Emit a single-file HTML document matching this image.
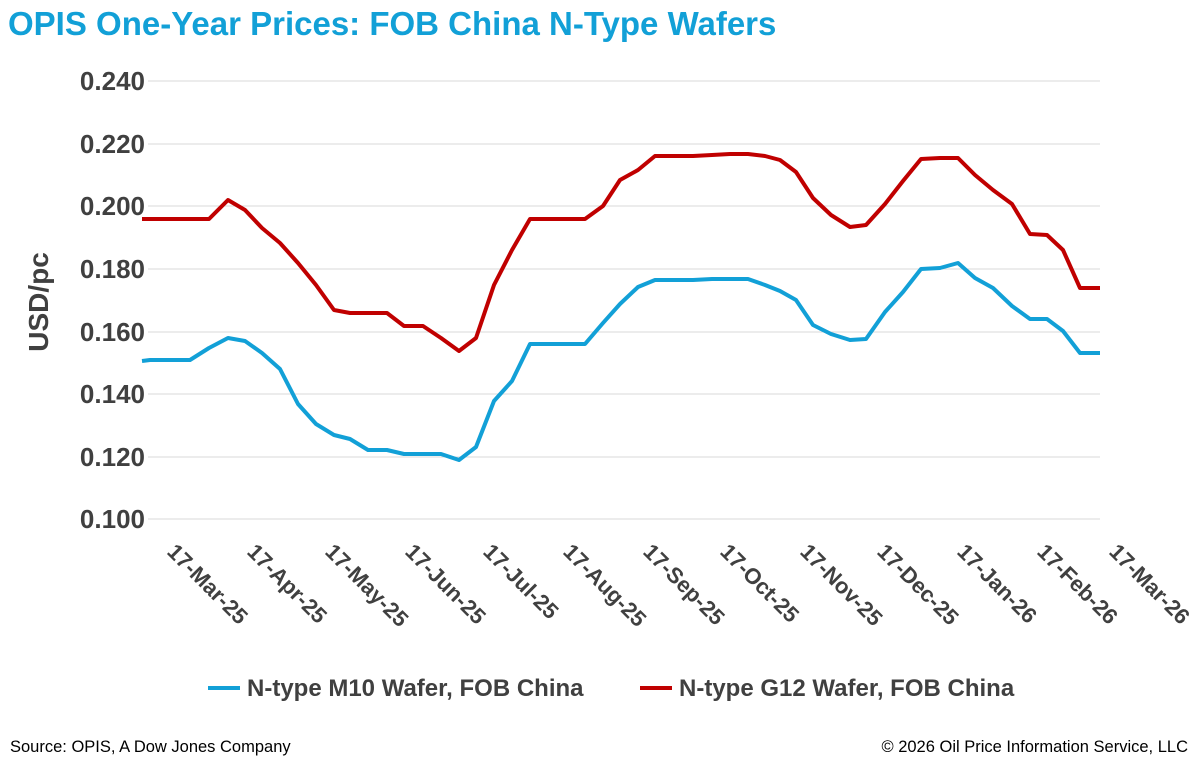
<!DOCTYPE html>
<html><head><meta charset="utf-8"><style>
html,body{margin:0;padding:0;background:#fff;}
svg{display:block;font-family:"Liberation Sans",sans-serif;}
</style></head><body>
<svg width="1200" height="765" viewBox="0 0 1200 765" xmlns="http://www.w3.org/2000/svg">
<text x="8" y="35" font-size="33" font-weight="bold" fill="#12a0d7">OPIS One-Year Prices: FOB China N-Type Wafers</text>
<g stroke="#d9d9d9" stroke-width="1">
<line x1="148" y1="81" x2="1100" y2="81"/><line x1="148" y1="144" x2="1100" y2="144"/>
<line x1="148" y1="206" x2="1100" y2="206"/><line x1="148" y1="269" x2="1100" y2="269"/>
<line x1="148" y1="332" x2="1100" y2="332"/><line x1="148" y1="394" x2="1100" y2="394"/>
<line x1="148" y1="457" x2="1100" y2="457"/><line x1="148" y1="519" x2="1100" y2="519"/>
</g>
<g font-size="26" font-weight="bold" fill="#404040" text-anchor="end">
<text x="145" y="90">0.240</text><text x="145" y="153">0.220</text><text x="145" y="215">0.200</text>
<text x="145" y="278">0.180</text><text x="145" y="341">0.160</text><text x="145" y="403">0.140</text>
<text x="145" y="466">0.120</text><text x="145" y="528">0.100</text>
</g>
<text transform="translate(48,302) rotate(-90)" font-size="28" font-weight="bold" fill="#404040" text-anchor="middle">USD/pc</text>
<g font-size="22" font-weight="bold" fill="#404040">
<text transform="translate(166,553) rotate(45)">17-Mar-25</text>
<text transform="translate(246,553) rotate(45)">17-Apr-25</text>
<text transform="translate(324,553) rotate(45)">17-May-25</text>
<text transform="translate(404,553) rotate(45)">17-Jun-25</text>
<text transform="translate(482,553) rotate(45)">17-Jul-25</text>
<text transform="translate(562,553) rotate(45)">17-Aug-25</text>
<text transform="translate(642,553) rotate(45)">17-Sep-25</text>
<text transform="translate(719,553) rotate(45)">17-Oct-25</text>
<text transform="translate(799,553) rotate(45)">17-Nov-25</text>
<text transform="translate(876,553) rotate(45)">17-Dec-25</text>
<text transform="translate(956,553) rotate(45)">17-Jan-26</text>
<text transform="translate(1036,553) rotate(45)">17-Feb-26</text>
<text transform="translate(1108,553) rotate(45)">17-Mar-26</text>
</g>
<polyline fill="none" stroke="#c00000" stroke-width="4" stroke-linejoin="round" points="142,219 209,219 228,200 245,210 262,228 280,243 298,263 316,285 334,310 350,313 368,313 387,313 404,326 423,326 441,338 459,351 476,338 494,285 512,250 530,219 549,219 567,219 585,219 603,206 620,180 638,170 655,156 674,156 693,156 712,155 730,154 748,154 765,156 780,160 796,172 813,198 831,215 850,227 866,225 885,204 903,181 921,159 940,158 958,158 975,175 993,190 1012,204 1030,234 1047,235 1063,250 1080,288 1100,288"/>
<polyline fill="none" stroke="#12a0d7" stroke-width="4" stroke-linejoin="round" points="142,361 150,360 190,360 209,348 228,338 245,341 262,353 280,369 298,404 316,424 334,435 350,439 368,450 387,450 404,454 423,454 441,454 459,460 476,447 494,401 512,381 530,344 549,344 567,344 585,344 603,323 620,304 638,287 655,280 674,280 693,280 712,279 730,279 748,279 765,285 780,291 796,300 813,325 831,334 850,340 866,339 885,312 903,292 921,269 940,268 958,263 975,278 993,288 1012,306 1030,319 1047,319 1063,331 1080,353 1100,353"/>
<line x1="208" y1="688" x2="240" y2="688" stroke="#12a0d7" stroke-width="4"/>
<text x="247" y="696" font-size="24" font-weight="bold" fill="#404040">N-type M10 Wafer, FOB China</text>
<line x1="640" y1="688" x2="672" y2="688" stroke="#c00000" stroke-width="4"/>
<text x="679" y="696" font-size="24" font-weight="bold" fill="#404040">N-type G12 Wafer, FOB China</text>
<text x="10" y="752" font-size="16.5" fill="#000">Source: OPIS, A Dow Jones Company</text>
<text x="1188" y="752" font-size="16.5" fill="#000" text-anchor="end">© 2026 Oil Price Information Service, LLC</text>
</svg>
</body></html>
